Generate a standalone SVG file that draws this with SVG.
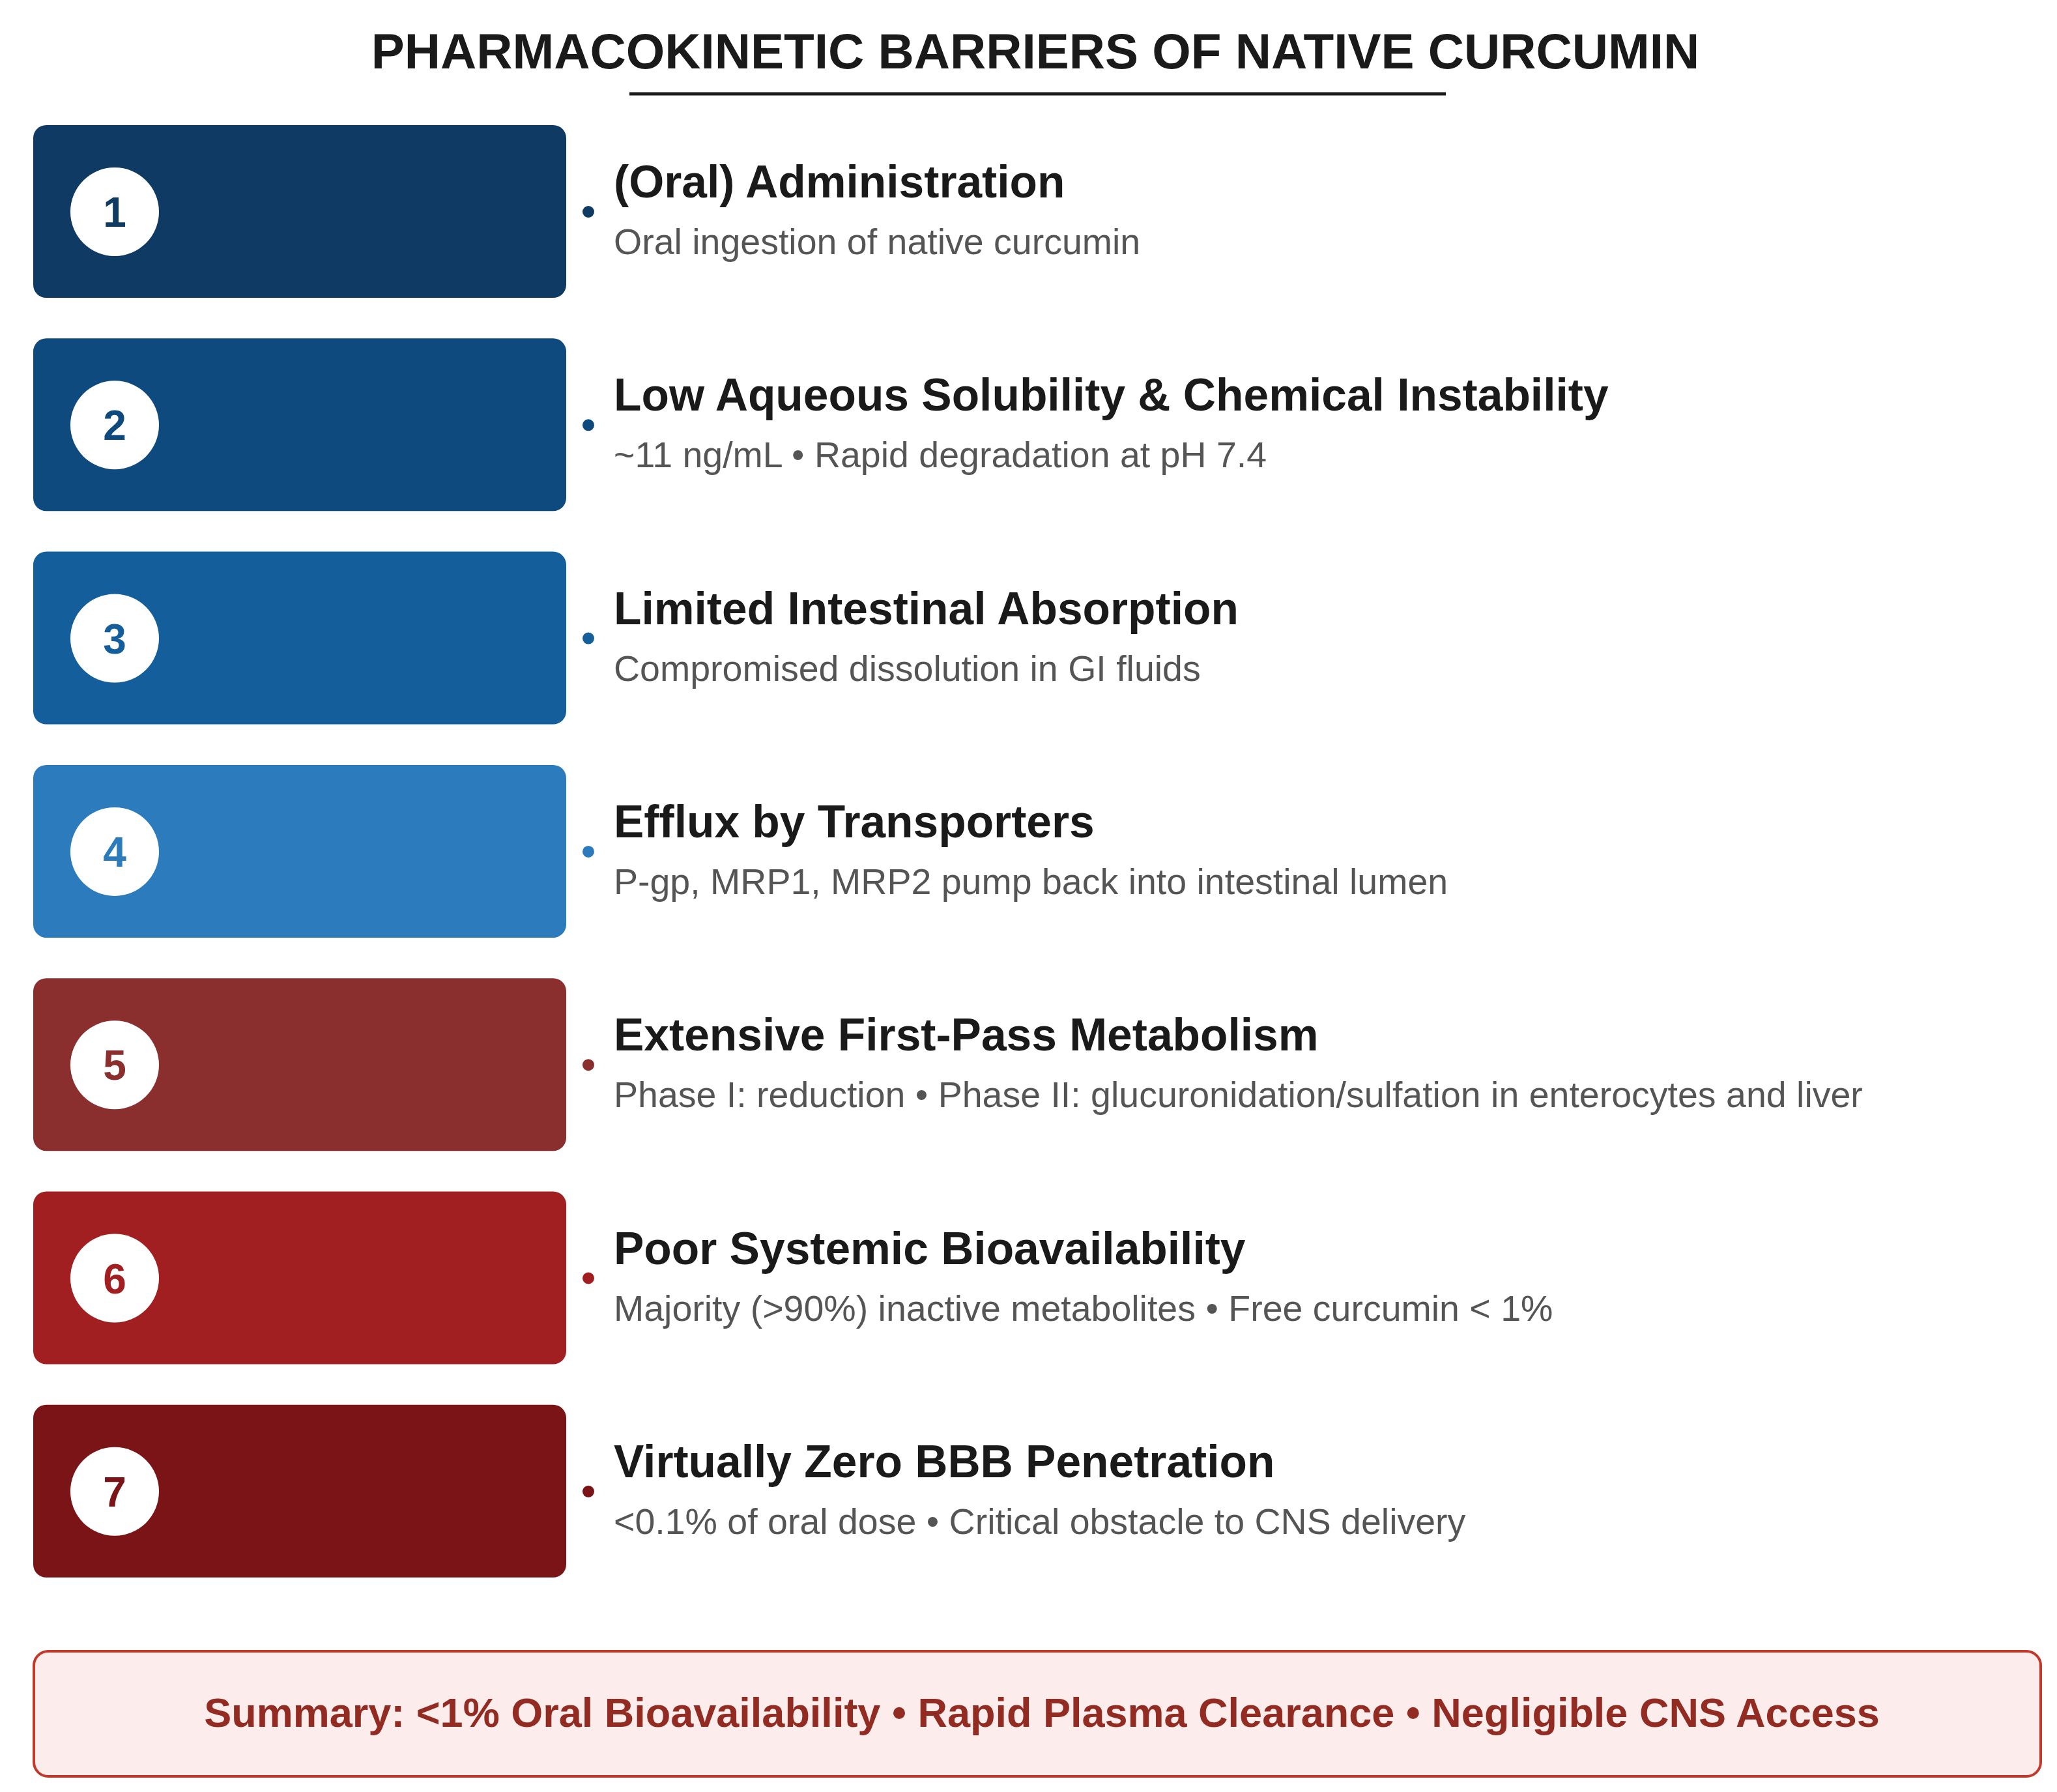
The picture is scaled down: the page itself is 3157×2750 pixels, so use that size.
<svg xmlns="http://www.w3.org/2000/svg" width="3157" height="2750" viewBox="0 0 3157 2750">
<style>
.title{font-family:"Liberation Sans",Arial,sans-serif;font-weight:bold;font-size:76.5px;fill:#1a1a1a}
.num{font-family:"Liberation Sans",Arial,sans-serif;font-weight:bold;font-size:64px;text-anchor:middle}
.head{font-family:"Liberation Sans",Arial,sans-serif;font-weight:bold;font-size:69.5px;fill:#1a1a1a}
.sub{font-family:"Liberation Sans",Arial,sans-serif;font-size:55.5px;fill:#555555}
.sum{font-family:"Liberation Sans",Arial,sans-serif;font-weight:bold;font-size:63px;fill:#922b21;text-anchor:middle}
.circ{fill:#ffffff}
</style>
<rect width="3157" height="2750" fill="#ffffff"/>
<g id="title">
<text class="title" x="1589" y="105" text-anchor="middle">PHARMACOKINETIC BARRIERS OF NATIVE CURCUMIN</text>
<line x1="966" y1="144" x2="2219" y2="144" stroke="#1a1a1a" stroke-width="5"/>
</g>
<g id="connectors"></g>
<g id="step1">
<rect x="51" y="192" width="818" height="265" rx="20" fill="#0e3a63"/>
<circle class="circ" cx="176" cy="325" r="68"/>
<text class="num" x="176" y="348" fill="#0e3a63">1</text>
<circle cx="903" cy="325" r="9" fill="#0e3a63"/>
<text class="head" x="942" y="303">(Oral) Administration</text>
<text class="sub" x="942" y="390">Oral ingestion of native curcumin</text>
</g>
<g id="step2">
<rect x="51" y="519.3" width="818" height="265" rx="20" fill="#0f4a7e"/>
<circle class="circ" cx="176" cy="652.3" r="68"/>
<text class="num" x="176" y="675.3" fill="#0f4a7e">2</text>
<circle cx="903" cy="652.3" r="9" fill="#0f4a7e"/>
<text class="head" x="942" y="630.3">Low Aqueous Solubility &amp; Chemical Instability</text>
<text class="sub" x="942" y="717.3">~11 ng/mL • Rapid degradation at pH 7.4</text>
</g>
<g id="step3">
<rect x="51" y="846.6" width="818" height="265" rx="20" fill="#145f9b"/>
<circle class="circ" cx="176" cy="979.6" r="68"/>
<text class="num" x="176" y="1002.6" fill="#145f9b">3</text>
<circle cx="903" cy="979.6" r="9" fill="#145f9b"/>
<text class="head" x="942" y="957.6">Limited Intestinal Absorption</text>
<text class="sub" x="942" y="1044.6">Compromised dissolution in GI fluids</text>
</g>
<g id="step4">
<rect x="51" y="1173.9" width="818" height="265" rx="20" fill="#2b7bbd"/>
<circle class="circ" cx="176" cy="1306.9" r="68"/>
<text class="num" x="176" y="1329.9" fill="#2b7bbd">4</text>
<circle cx="903" cy="1306.9" r="9" fill="#2b7bbd"/>
<text class="head" x="942" y="1284.9">Efflux by Transporters</text>
<text class="sub" x="942" y="1371.9">P-gp, MRP1, MRP2 pump back into intestinal lumen</text>
</g>
<g id="step5">
<rect x="51" y="1501.2" width="818" height="265" rx="20" fill="#8a2e2e"/>
<circle class="circ" cx="176" cy="1634.2" r="68"/>
<text class="num" x="176" y="1657.2" fill="#8a2e2e">5</text>
<circle cx="903" cy="1634.2" r="9" fill="#8a2e2e"/>
<text class="head" x="942" y="1612.2">Extensive First-Pass Metabolism</text>
<text class="sub" x="942" y="1699.2">Phase I: reduction • Phase II: glucuronidation/sulfation in enterocytes and liver</text>
</g>
<g id="step6">
<rect x="51" y="1828.5" width="818" height="265" rx="20" fill="#a11f21"/>
<circle class="circ" cx="176" cy="1961.5" r="68"/>
<text class="num" x="176" y="1984.5" fill="#a11f21">6</text>
<circle cx="903" cy="1961.5" r="9" fill="#a11f21"/>
<text class="head" x="942" y="1939.5">Poor Systemic Bioavailability</text>
<text class="sub" x="942" y="2026.5">Majority (&gt;90%) inactive metabolites • Free curcumin &lt; 1%</text>
</g>
<g id="step7">
<rect x="51" y="2155.8" width="818" height="265" rx="20" fill="#7a1416"/>
<circle class="circ" cx="176" cy="2288.8" r="68"/>
<text class="num" x="176" y="2311.8" fill="#7a1416">7</text>
<circle cx="903" cy="2288.8" r="9" fill="#7a1416"/>
<text class="head" x="942" y="2266.8">Virtually Zero BBB Penetration</text>
<text class="sub" x="942" y="2353.8">&lt;0.1% of oral dose • Critical obstacle to CNS delivery</text>
</g>
<g id="summary">
<rect x="52" y="2534" width="3080" height="192" rx="22" fill="#fdecec" stroke="#c0392b" stroke-width="4"/>
<text class="sum" x="1599" y="2650">Summary: &lt;1% Oral Bioavailability • Rapid Plasma Clearance • Negligible CNS Access</text>
</g>
</svg>
